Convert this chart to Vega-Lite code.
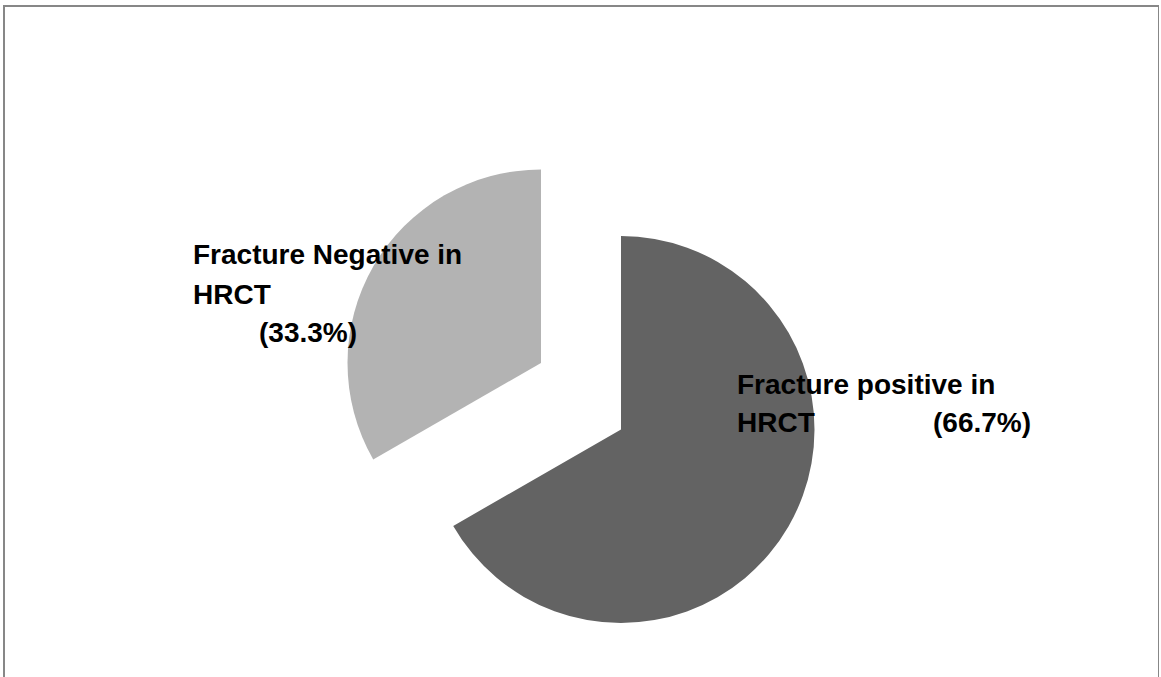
{
  "$schema": "https://vega.github.io/schema/vega-lite/v6.json",
  "width": 1155,
  "height": 847,
  "autosize": {"type": "none"},
  "padding": {"left": 4, "top": 6, "right": 0, "bottom": 0},
  "background": "white",
  "view": {"stroke": "#878787", "strokeWidth": 2, "fill": "white"},
  "config": {
    "text": {"font": "Liberation Sans", "fontSize": 28, "fontWeight": "bold", "fill": "#000000", "align": "left", "baseline": "alphabetic"}
  },
  "data": {
    "values": [
      {"category": "Fracture positive in\nHRCT", "percent": 66.7},
      {"category": "Fracture Negative in\nHRCT", "percent": 33.3}
    ]
  },
  "transform": [
    {"stack": "percent", "groupby": [], "sort": [{"field": "category", "order": "descending"}], "as": ["start", "end"]},
    {"calculate": "'(' + format(datum.percent, '.1f') + '%)'", "as": "pct_label"}
  ],
  "layer": [
    {
      "transform": [{"filter": {"field": "category", "equal": "Fracture positive in\nHRCT"}}],
      "mark": {"type": "arc", "outerRadius": 193.5, "xOffset": 39.5},
      "encoding": {
        "theta": {"field": "start", "type": "quantitative", "scale": {"domain": [0, 100]}},
        "theta2": {"field": "end"},
        "color": {"field": "category", "type": "nominal", "scale": {"domain": ["Fracture positive in\nHRCT", "Fracture Negative in\nHRCT"], "range": ["#636363", "#b3b3b3"]}, "legend": null}
      }
    },
    {
      "transform": [{"filter": {"field": "category", "equal": "Fracture Negative in\nHRCT"}}],
      "mark": {"type": "arc", "outerRadius": 193.5, "xOffset": -40.5, "yOffset": -66.5},
      "encoding": {
        "theta": {"field": "start", "type": "quantitative", "scale": {"domain": [0, 100]}},
        "theta2": {"field": "end"},
        "color": {"field": "category", "type": "nominal", "legend": null}
      }
    },
    {
      "transform": [{"filter": {"field": "category", "equal": "Fracture Negative in\nHRCT"}}],
      "mark": {"type": "text", "dx": -388.5, "dy": -165.5, "lineBreak": "\n", "lineHeight": 40},
      "encoding": {"text": {"field": "category"}}
    },
    {
      "transform": [{"filter": {"field": "category", "equal": "Fracture Negative in\nHRCT"}}],
      "mark": {"type": "text", "dx": -322.5, "dy": -87.5},
      "encoding": {"text": {"field": "pct_label"}}
    },
    {
      "transform": [{"filter": {"field": "category", "equal": "Fracture positive in\nHRCT"}}],
      "mark": {"type": "text", "dx": 155.5, "dy": -35.5, "lineBreak": "\n", "lineHeight": 38},
      "encoding": {"text": {"field": "category"}}
    },
    {
      "transform": [{"filter": {"field": "category", "equal": "Fracture positive in\nHRCT"}}],
      "mark": {"type": "text", "dx": 351.5, "dy": 2.5},
      "encoding": {"text": {"field": "pct_label"}}
    }
  ]
}
